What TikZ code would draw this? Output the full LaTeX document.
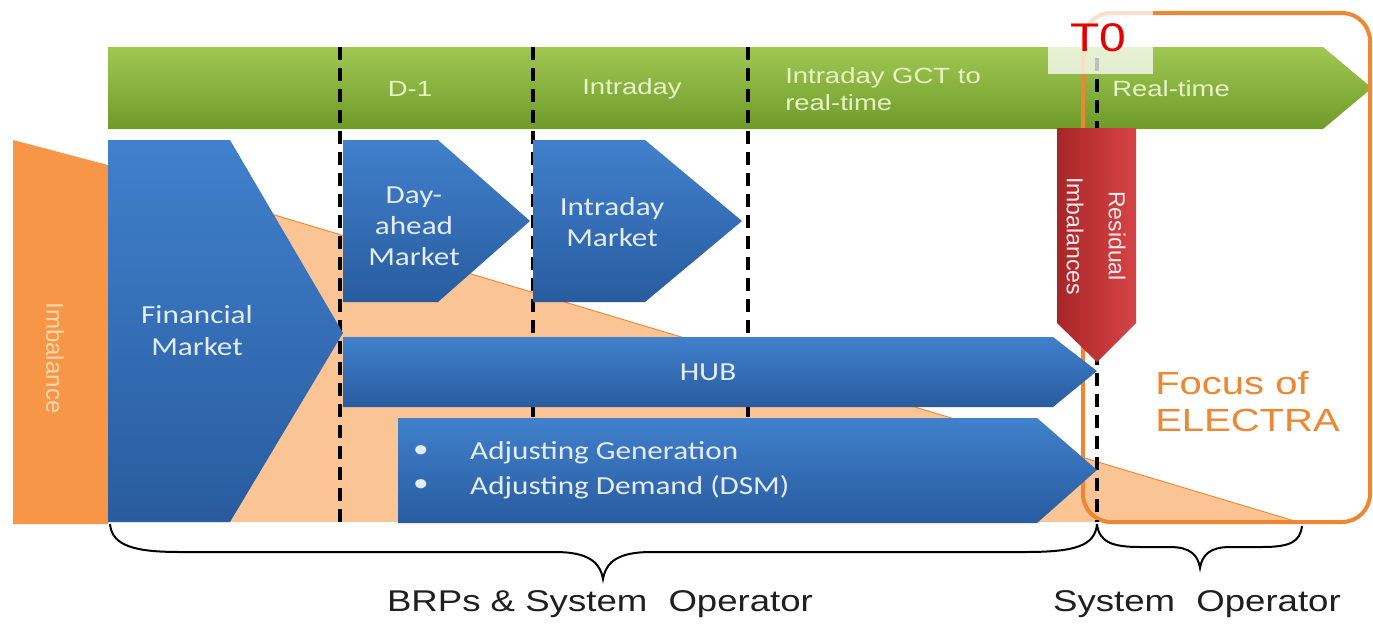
\documentclass[tikz,border=0pt]{standalone}
\usepackage{fontspec}
\setmainfont{Liberation Sans}
\newfontfamily\carl{Carlito}
\definecolor{gtop}{HTML}{A0C752}
\definecolor{gbot}{HTML}{6F9B2A}
\definecolor{gtxt}{HTML}{E6F3C8}
\definecolor{btop}{HTML}{4180CC}
\definecolor{bbot}{HTML}{285C9F}
\definecolor{btxt}{HTML}{E4ECF7}
\definecolor{peach}{HTML}{FBC494}
\definecolor{orangeA}{HTML}{F79646}
\definecolor{orangeL}{HTML}{EF8A3A}
\definecolor{imbtxt}{HTML}{FDD8B0}
\definecolor{rleft}{HTML}{A82628}
\definecolor{rright}{HTML}{D74446}
\definecolor{focusc}{HTML}{EE8632}
\begin{document}
\begin{tikzpicture}[x=1pt,y=-1pt,
  bluefill/.style={top color=btop,bottom color=bbot,draw=none},
  gtext/.style={font=\fontsize{22}{27}\selectfont,text=gtxt,xscale=1.25,inner sep=0pt},
  btext/.style={font=\carl\fontsize{26}{31}\selectfont,text=btxt,xscale=1.2,align=center,inner sep=0pt},
  dashline/.style={line width=3.5pt,dash pattern=on 13pt off 8pt,black},
  focusbox/.style={draw=focusc,line width=4pt,rounded corners=28pt},
  bracel/.style={line width=2pt,black},
  lbl/.style={font=\fontsize{30}{34}\selectfont,text=black!88,xscale=1.22,inner sep=0pt}]
\useasboundingbox (0,0) rectangle (1373,624);
\fill[white] (0,0) rectangle (1373,624);
% imbalance triangle and bar
\fill[peach] (108,165) -- (1298,522) -- (108,522) -- cycle;
\draw[orangeL,line width=1pt] (108,165) -- (1298,522);
\fill[orangeA] (13,140) -- (108,165) -- (108,524) -- (13,524) -- cycle;
\node[font=\fontsize{24}{28}\selectfont,text=imbtxt,rotate=-90,inner sep=0pt] (imb) at (55,358) {Imbalance};
% green timeline arrow
\path[top color=gtop,bottom color=gbot] (108,47) -- (1323,47) -- (1372,88) -- (1323,129) -- (108,129) -- cycle;
% focus box
\draw[focusbox] (1083,13) rectangle (1370,522);
% dashed separators
\coordinate (d1t) at (340,47); \coordinate (d1b) at (340,522);
\coordinate (d2t) at (533,47); \coordinate (d2b) at (533,522);
\coordinate (d3t) at (748,47); \coordinate (d3b) at (748,522);
\coordinate (d4t) at (1097,58); \coordinate (d4b) at (1097,522);
\draw[dashline] (d1t) -- (d1b);
\draw[dashline] (d2t) -- (d2b);
\draw[dashline] (d3t) -- (d3b);
\draw[dashline] (d4t) -- (d4b);
% T0 marker box
\fill[white,opacity=0.75] (1048,8) rectangle (1153,74);
\node[font=\fontsize{40}{44}\selectfont,text=red!90!black,xscale=1.2,inner sep=0pt] (t0) at (1098,38) {T0};
% green labels
\node[gtext] (dm1) at (410,89) {D-1};
\node[gtext] (intra) at (632,89) {Intraday};
\node[gtext,anchor=west,align=left] (gct) at (785,89) {Intraday GCT to\\real-time};
\node[gtext,anchor=west] (rt) at (1112,89) {Real-time};
% blue shapes
\path[bluefill] (108,140) -- (230,140) -- (343,333) -- (230,522) -- (108,522) -- cycle;
\node[btext] (fin) at (197,331) {Financial\\[1pt]Market};
\path[bluefill] (343,140) -- (438,140) -- (530,221) -- (438,302) -- (343,302) -- cycle;
\node[btext] (da) at (414,226) {Day-\\ahead\\Market};
\path[bluefill] (533,140) -- (645,140) -- (742,221) -- (645,302) -- (533,302) -- cycle;
\node[btext] (idm) at (612,222) {Intraday\\Market};
\path[bluefill] (343,337) -- (1053,337) -- (1097,371) -- (1053,407) -- (343,407) -- cycle;
\node[btext] (hub) at (708,372) {HUB};
\path[bluefill] (398,418) -- (1037,418) -- (1097,470) -- (1037,523) -- (398,523) -- cycle;
\node[btext] (b1) at (421,452) {\textbullet};
\node[btext] (b2) at (421,486) {\textbullet};
\node[btext,anchor=west] (adjg) at (470,453) {Adjusting Generation};
\node[btext,anchor=west] (adjd) at (470,487) {Adjusting Demand (DSM)};
% residual imbalances
\path[left color=rleft,right color=rright] (1057,128) -- (1136,128) -- (1136,323) -- (1097,362) -- (1057,323) -- cycle;
\node[font=\fontsize{23}{42}\selectfont,text=white!92!red,rotate=-90,align=center,inner sep=0pt] (res) at (1096,236) {Residual\\Imbalances};
% focus label
\node[font=\fontsize{32}{37}\selectfont,text=focusc,xscale=1.25,anchor=west,align=left,inner sep=0pt] (foc) at (1155,402) {Focus of\\ELECTRA};
% braces
\coordinate (bl) at (110,524); \coordinate (bm) at (603,579); \coordinate (br) at (1097,524);
\draw[bracel] (bl) .. controls (112,546) and (135,552) .. (180,552) -- (555,552) .. controls (588,552) and (600,562) .. (bm)
  .. controls (606,562) and (618,552) .. (651,552) -- (1025,552) .. controls (1075,552) and (1095,546) .. (br);
\coordinate (cl) at (1097,524); \coordinate (cm) at (1200,568); \coordinate (cr) at (1302,526);
\draw[bracel] (cl) .. controls (1099,542) and (1112,547) .. (1140,547) -- (1170,547) .. controls (1190,547) and (1198,555) .. (cm)
  .. controls (1202,555) and (1210,547) .. (1230,547) -- (1262,547) .. controls (1290,547) and (1300,542) .. (cr);
% bottom labels
\node[lbl] (brp) at (600,604) {BRPs \& System\hspace{0.3em} Operator};
\node[lbl] (so) at (1197,604) {System\hspace{0.3em} Operator};
\end{tikzpicture}
\end{document}
